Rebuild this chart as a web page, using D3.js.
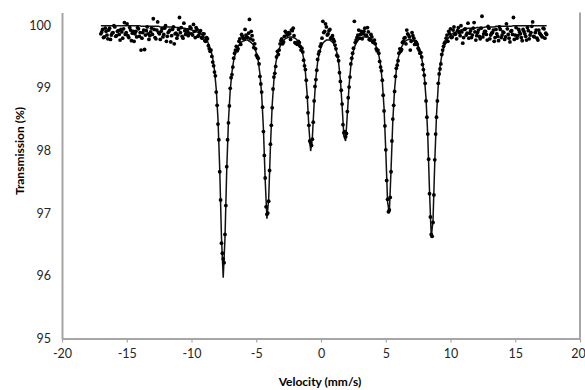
<!DOCTYPE html>
<html>
<head>
<meta charset="utf-8">
<script src="https://cdn.jsdelivr.net/npm/d3@7"></script>
<style>
  html, body { margin: 0; padding: 0; background: #fff; }
  svg { display: block; }
</style>
</head>
<body>
<svg id="chart" width="585" height="390"></svg>
<script>
// Channel velocities (mm/s)
const velocity = [
-17.000,-16.865,-16.730,-16.595,-16.460,-16.325,-16.190,-16.055,-15.920,-15.785,
-15.650,-15.515,-15.380,-15.245,-15.110,-14.975,-14.840,-14.705,-14.570,-14.435,
-14.300,-14.165,-14.030,-13.895,-13.760,-13.625,-13.490,-13.355,-13.220,-13.085,
-12.950,-12.815,-12.680,-12.545,-12.410,-12.275,-12.140,-12.005,-11.870,-11.735,
-11.600,-11.465,-11.330,-11.195,-11.060,-10.925,-10.790,-10.655,-10.520,-10.385,
-10.250,-10.115,-9.980,-9.845,-9.710,-9.575,-9.440,-9.305,-9.170,-9.035,
-8.900,-8.765,-8.630,-8.495,-8.360,-8.225,-8.090,-7.955,-7.820,-7.685,
-7.550,-7.415,-7.280,-7.145,-7.010,-6.875,-6.740,-6.605,-6.470,-6.335,
-6.200,-6.065,-5.930,-5.795,-5.660,-5.525,-5.390,-5.255,-5.120,-4.985,
-4.850,-4.715,-4.580,-4.445,-4.310,-4.175,-4.040,-3.905,-3.770,-3.635,
-3.500,-3.365,-3.230,-3.095,-2.960,-2.825,-2.690,-2.555,-2.420,-2.285,
-2.150,-2.015,-1.880,-1.745,-1.610,-1.475,-1.340,-1.205,-1.070,-0.935,
-0.800,-0.665,-0.530,-0.395,-0.260,-0.125,0.010,0.145,0.280,0.415,
0.550,0.685,0.820,0.955,1.090,1.225,1.360,1.495,1.630,1.765,
1.900,2.035,2.170,2.305,2.440,2.575,2.710,2.845,2.980,3.115,
3.250,3.385,3.520,3.655,3.790,3.925,4.060,4.195,4.330,4.465,
4.600,4.735,4.870,5.005,5.140,5.275,5.410,5.545,5.680,5.815,
5.950,6.085,6.220,6.355,6.490,6.625,6.760,6.895,7.030,7.165,
7.300,7.435,7.570,7.705,7.840,7.975,8.110,8.245,8.380,8.515,
8.650,8.785,8.920,9.055,9.190,9.325,9.460,9.595,9.730,9.865,
10.000,10.135,10.270,10.405,10.540,10.675,10.810,10.945,11.080,11.215,
11.350,11.485,11.620,11.755,11.890,12.025,12.160,12.295,12.430,12.565,
12.700,12.835,12.970,13.105,13.240,13.375,13.510,13.645,13.780,13.915,
14.050,14.185,14.320,14.455,14.590,14.725,14.860,14.995,15.130,15.265,
15.400,15.535,15.670,15.805,15.940,16.075,16.210,16.345,16.480,16.615,
16.750,16.885,17.020,17.155,17.290,17.425
];

// Measured transmission (%) at the channel velocities
const transmission = [
99.86,99.93,99.81,99.90,99.78,99.95,99.84,99.88,99.97,99.83,
99.91,99.76,99.89,99.94,99.85,100.02,99.80,99.92,99.87,99.74,
99.90,99.96,99.82,99.60,99.88,99.61,99.91,99.86,99.83,99.95,
100.10,99.80,99.92,99.88,99.77,99.94,99.85,99.99,99.82,99.90,
99.73,99.93,99.70,99.87,99.84,100.12,99.96,99.79,99.91,99.88,
99.83,99.97,99.86,100.01,99.80,99.93,99.84,99.91,99.79,99.86,
99.74,99.78,99.62,99.60,99.41,99.25,98.93,98.42,97.66,96.52,
96.27,96.66,97.74,98.44,98.99,99.21,99.47,99.60,99.59,99.74,
99.69,99.82,99.78,99.84,99.80,100.09,99.90,99.76,99.70,99.52,
99.47,99.18,98.93,98.30,97.56,96.98,97.19,98.10,98.68,99.17,
99.34,99.58,99.60,99.75,99.70,99.82,99.88,99.85,99.86,99.92,
99.95,99.72,99.70,99.74,99.66,99.63,99.44,99.29,98.85,98.40,
98.12,98.18,98.79,99.13,99.45,99.58,99.70,100.06,99.90,99.97,
99.86,99.93,99.80,99.77,99.68,99.52,99.43,99.10,98.74,98.28,
98.22,98.62,99.01,99.38,99.55,100.06,99.76,99.84,99.79,99.90,
99.86,99.95,99.83,99.89,99.76,99.81,99.72,99.70,99.59,99.55,
99.33,99.12,98.63,98.01,97.22,97.05,97.66,98.50,98.94,99.31,
99.43,99.62,99.61,99.74,99.80,99.92,99.84,99.60,99.88,99.79,
99.74,99.69,99.60,99.56,99.37,99.20,98.79,98.26,97.31,96.66,
96.85,97.85,98.53,99.07,99.30,99.53,99.66,99.73,99.84,99.90,
99.94,99.81,99.97,99.86,99.91,99.88,99.99,99.71,99.93,99.84,
100.03,99.87,99.80,99.95,99.89,99.83,99.92,99.78,100.14,99.86,
99.90,99.76,99.95,99.84,99.88,99.74,99.93,99.82,99.97,99.80,
99.89,99.77,100.02,99.85,99.73,99.91,100.12,99.84,99.79,99.93,
99.86,99.75,99.90,99.82,99.96,99.78,99.88,100.05,99.81,99.92,
99.76,99.87,99.83,99.95,99.79,99.85
];

// Interleaved half-step channel velocities (mm/s)
const velocityMid = [
-16.9325,-16.7975,-16.6625,-16.5275,-16.3925,-16.2575,-16.1225,-15.9875,-15.8525,-15.7175,
-15.5825,-15.4475,-15.3125,-15.1775,-15.0425,-14.9075,-14.7725,-14.6375,-14.5025,-14.3675,
-14.2325,-14.0975,-13.9625,-13.8275,-13.6925,-13.5575,-13.4225,-13.2875,-13.1525,-13.0175,
-12.8825,-12.7475,-12.6125,-12.4775,-12.3425,-12.2075,-12.0725,-11.9375,-11.8025,-11.6675,
-11.5325,-11.3975,-11.2625,-11.1275,-10.9925,-10.8575,-10.7225,-10.5875,-10.4525,-10.3175,
-10.1825,-10.0475,-9.9125,-9.7775,-9.6425,-9.5075,-9.3725,-9.2375,-9.1025,-8.9675,
-8.8325,-8.6975,-8.5625,-8.4275,-8.2925,-8.1575,-8.0225,-7.8875,-7.7525,-7.6175,
-7.4825,-7.3475,-7.2125,-7.0775,-6.9425,-6.8075,-6.6725,-6.5375,-6.4025,-6.2675,
-6.1325,-5.9975,-5.8625,-5.7275,-5.5925,-5.4575,-5.3225,-5.1875,-5.0525,-4.9175,
-4.7825,-4.6475,-4.5125,-4.3775,-4.2425,-4.1075,-3.9725,-3.8375,-3.7025,-3.5675,
-3.4325,-3.2975,-3.1625,-3.0275,-2.8925,-2.7575,-2.6225,-2.4875,-2.3525,-2.2175,
-2.0825,-1.9475,-1.8125,-1.6775,-1.5425,-1.4075,-1.2725,-1.1375,-1.0025,-0.8675,
-0.7325,-0.5975,-0.4625,-0.3275,-0.1925,-0.0575,0.0775,0.2125,0.3475,0.4825,
0.6175,0.7525,0.8875,1.0225,1.1575,1.2925,1.4275,1.5625,1.6975,1.8325,
1.9675,2.1025,2.2375,2.3725,2.5075,2.6425,2.7775,2.9125,3.0475,3.1825,
3.3175,3.4525,3.5875,3.7225,3.8575,3.9925,4.1275,4.2625,4.3975,4.5325,
4.6675,4.8025,4.9375,5.0725,5.2075,5.3425,5.4775,5.6125,5.7475,5.8825,
6.0175,6.1525,6.2875,6.4225,6.5575,6.6925,6.8275,6.9625,7.0975,7.2325,
7.3675,7.5025,7.6375,7.7725,7.9075,8.0425,8.1775,8.3125,8.4475,8.5825,
8.7175,8.8525,8.9875,9.1225,9.2575,9.3925,9.5275,9.6625,9.7975,9.9325,
10.0675,10.2025,10.3375,10.4725,10.6075,10.7425,10.8775,11.0125,11.1475,11.2825,
11.4175,11.5525,11.6875,11.8225,11.9575,12.0925,12.2275,12.3625,12.4975,12.6325,
12.7675,12.9025,13.0375,13.1725,13.3075,13.4425,13.5775,13.7125,13.8475,13.9825,
14.1175,14.2525,14.3875,14.5225,14.6575,14.7925,14.9275,15.0625,15.1975,15.3325,
15.4675,15.6025,15.7375,15.8725,16.0075,16.1425,16.2775,16.4125,16.5475,16.6825,
16.8175,16.9525,17.0875,17.2225,17.3575
];

// Measured transmission (%) at the half-step velocities
const transmissionMid = [
99.89,99.80,99.95,99.84,99.92,99.77,99.87,99.99,99.82,99.90,
99.85,99.93,99.79,100.04,99.88,99.83,99.96,99.75,99.90,99.86,
99.81,99.94,99.88,99.79,99.92,99.84,99.97,99.77,99.89,99.85,
99.93,99.78,100.05,99.86,99.90,99.81,99.95,99.74,99.88,99.92,
99.83,99.97,99.86,99.79,99.93,99.88,99.82,100.03,99.85,99.91,
99.87,99.95,99.84,99.90,99.96,99.82,99.89,99.80,99.86,99.75,
99.80,99.67,99.58,99.50,99.35,99.19,98.72,98.17,97.21,96.36,
96.21,97.12,98.17,98.71,99.16,99.33,99.55,99.66,99.62,99.78,
99.85,99.79,99.93,99.81,99.87,99.78,99.83,99.64,99.62,99.49,
99.38,99.06,98.69,97.92,97.10,97.00,97.68,98.40,98.98,99.23,
99.49,99.53,99.70,99.78,99.73,99.90,99.84,99.88,99.77,99.91,
99.83,99.71,99.69,99.72,99.60,99.57,99.35,99.12,98.60,98.15,
98.08,98.45,99.02,99.28,99.54,99.66,99.79,99.88,100.02,99.84,
99.91,99.79,99.83,99.74,99.62,99.50,99.24,98.96,98.41,98.30,
98.27,98.84,99.17,99.47,99.63,99.72,99.80,99.92,99.85,99.78,
99.90,99.84,99.96,99.77,99.85,99.73,99.76,99.62,99.60,99.42,
99.27,98.88,98.39,97.52,97.02,97.25,98.15,98.72,99.18,99.36,
99.55,99.58,99.72,99.79,99.70,99.86,99.81,99.74,99.83,99.69,
99.72,99.63,99.55,99.49,99.29,99.07,98.53,97.86,96.94,96.63,
97.29,98.26,98.79,99.22,99.38,99.60,99.71,99.79,99.74,99.86,
99.80,99.92,99.85,99.78,99.96,99.83,99.89,99.80,99.94,99.87,
99.79,99.91,99.84,100.04,99.76,99.88,99.82,99.95,99.81,99.90,
99.85,99.98,99.78,99.87,99.92,99.80,99.86,99.75,99.93,99.84,
99.88,99.81,99.94,99.79,99.90,99.85,99.77,99.96,99.83,99.89,
99.80,99.93,99.86,99.76,99.91,99.84,99.98,99.82,99.88,99.79,
99.92,99.85,99.81,99.94,99.87
];

// Fitted transmission (%) at the channel velocities
const fitTransmission = [
99.99,99.99,99.99,99.99,99.99,99.99,99.99,99.99,99.99,99.99,
99.99,99.99,99.99,99.99,99.99,99.99,99.99,99.99,99.99,99.99,
99.99,99.99,99.99,99.98,99.98,99.98,99.98,99.98,99.98,99.98,
99.98,99.98,99.98,99.98,99.97,99.97,99.97,99.97,99.97,99.97,
99.97,99.97,99.97,99.96,99.96,99.96,99.95,99.95,99.95,99.94,
99.94,99.93,99.92,99.91,99.90,99.89,99.88,99.86,99.84,99.81,
99.78,99.74,99.67,99.59,99.47,99.28,98.98,98.50,97.70,96.61,
95.97,96.60,97.69,98.48,98.96,99.25,99.44,99.55,99.63,99.68,
99.72,99.74,99.75,99.76,99.76,99.74,99.72,99.69,99.63,99.55,
99.43,99.22,98.89,98.34,97.53,96.91,97.23,98.06,98.72,99.13,
99.38,99.53,99.62,99.69,99.74,99.77,99.79,99.80,99.81,99.81,
99.80,99.79,99.77,99.73,99.68,99.60,99.47,99.25,98.89,98.37,
97.99,98.21,98.75,99.16,99.41,99.56,99.65,99.71,99.74,99.76,
99.76,99.76,99.74,99.71,99.65,99.56,99.40,99.13,98.71,98.23,
98.15,98.58,99.04,99.35,99.53,99.64,99.71,99.75,99.78,99.80,
99.81,99.81,99.81,99.81,99.79,99.77,99.74,99.69,99.62,99.52,
99.36,99.10,98.67,97.98,97.18,97.00,97.70,98.47,98.97,99.28,
99.46,99.58,99.65,99.70,99.74,99.76,99.77,99.77,99.76,99.75,
99.72,99.69,99.63,99.54,99.40,99.19,98.83,98.23,97.35,96.61,
96.89,97.81,98.57,99.04,99.33,99.51,99.62,99.70,99.76,99.80,
99.83,99.86,99.88,99.89,99.90,99.91,99.92,99.93,99.94,99.94,
99.95,99.95,99.95,99.95,99.95,99.96,99.96,99.96,99.96,99.96,
99.97,99.97,99.97,99.97,99.97,99.97,99.98,99.98,99.98,99.98,
99.98,99.98,99.98,99.98,99.98,99.98,99.99,99.99,99.99,99.99,
99.99,99.99,99.99,99.99,99.99,99.99,99.99,99.99,99.99,99.99,
99.99,99.99,99.99,99.99,99.99,99.99
];

const xTicks = [-20, -15, -10, -5, 0, 5, 10, 15, 20];
const yTicks = [95, 96, 97, 98, 99, 100];
const xTitle = "Velocity (mm/s)";
const yTitle = "Transmission (%)";

const svg = d3.select("#chart");
const axisColor = "#a6a6a6";
const textColor = "#262626";
const fontFamily = "Lato, 'Open Sans', sans-serif";

const x = d3.scaleLinear().domain([-20, 20]).range([62, 580]);
const y = d3.scaleLinear().domain([95, 100.2]).range([338.5, 12.5]);

svg.append("rect").attr("width", 585).attr("height", 390).attr("fill", "#fff");

// X axis
const gx = svg.append("g")
  .attr("transform", `translate(0,${y(95)})`)
  .call(d3.axisBottom(x).tickValues(xTicks).tickFormat(d => String(d))
    .tickSize(4).tickSizeOuter(0).tickPadding(7));
gx.select(".domain").attr("stroke", axisColor).attr("stroke-width", 2);
gx.selectAll(".tick line").attr("stroke", axisColor).attr("stroke-width", 1.2);
gx.selectAll(".tick text")
  .attr("fill", textColor)
  .attr("dx", d => d === 20 ? -2 : 0)
  .style("font-family", fontFamily)
  .style("font-size", "12.5px");

// Y axis
const gy = svg.append("g")
  .attr("transform", `translate(${x(-20)},0)`)
  .call(d3.axisLeft(y).tickValues(yTicks).tickFormat(d => String(d))
    .tickSize(0).tickSizeOuter(0).tickPadding(11));
gy.select(".domain").attr("stroke", axisColor).attr("stroke-width", 2);
gy.selectAll(".tick text")
  .attr("fill", textColor)
  .style("font-family", fontFamily)
  .style("font-size", "12.5px");

// Right border line
svg.append("line")
  .attr("x1", x(20)).attr("x2", x(20))
  .attr("y1", y(100.2)).attr("y2", y(95))
  .attr("stroke", axisColor).attr("stroke-width", 2);

// Fit line
const fitPts = velocity.map((v, i) => ({ v, t: fitTransmission[i] }));
svg.append("path")
  .datum(fitPts)
  .attr("fill", "none")
  .attr("stroke", "#111")
  .attr("stroke-width", 1.5)
  .attr("d", d3.line().x(d => x(d.v)).y(d => y(d.t)));

// Data points
const dataPts = velocity.map((v, i) => ({ v, t: transmission[i] }))
  .concat(velocityMid.map((v, i) => ({ v, t: transmissionMid[i] })));
svg.append("g")
  .selectAll("circle")
  .data(dataPts)
  .join("circle")
  .attr("cx", d => x(d.v))
  .attr("cy", d => y(d.t))
  .attr("r", 1.9)
  .attr("fill", "#000");

// Axis titles
svg.append("text")
  .attr("x", 320).attr("y", 386)
  .attr("text-anchor", "middle")
  .attr("fill", "#000")
  .style("font-family", fontFamily)
  .style("font-weight", "bold")
  .style("font-size", "12px")
  .text(xTitle);

svg.append("text")
  .attr("transform", "translate(24,151) rotate(-90)")
  .attr("text-anchor", "middle")
  .attr("fill", "#000")
  .style("font-family", fontFamily)
  .style("font-weight", "bold")
  .style("font-size", "12px")
  .text(yTitle);
</script>
</body>
</html>
